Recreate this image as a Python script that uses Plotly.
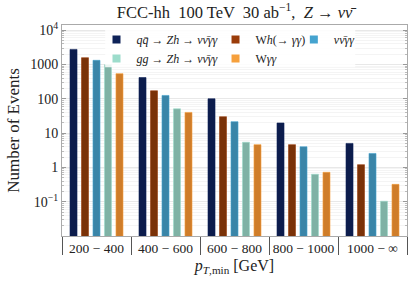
import plotly.graph_objects as go

categories = ["200 − 400", "400 − 600", "600 − 800", "800 − 1000", "1000 − ∞"]
qq_zh = [2750, 415, 100, 19.7, 5.0]
wh = [1575, 171, 30, 4.6, 1.2]
nunu_gg = [1320, 125, 21.5, 4.0, 2.55]
gg_zh = [980, 51, 5.4, 0.63, 0.103]
w_gg = [540, 40, 4.6, 0.72, 0.32]

names = [
    "<i>qq̄</i> → <i>Zh</i> → <i>νν̄γγ</i>",
    "W<i>h</i>(→ <i>γγ</i>)",
    "<i>νν̄γγ</i>",
    "<i>gg</i> → <i>Zh</i> → <i>νν̄γγ</i>",
    "W<i>γγ</i>",
]
series = [qq_zh, wh, nunu_gg, gg_zh, w_gg]
bar_colors = ["#0c1c4c", "#7a3208", "#3a85a8", "#7fb2a5", "#cf7d2a"]
legend_colors = ["#0e2258", "#9a3c0a", "#45a3cf", "#9cdccb", "#f6a03c"]
legend_ids = ["legend", "legend2", "legend3", "legend", "legend2"]

FONT = "Liberation Serif"

fig = go.Figure()
for vals, c, lc in zip(series, bar_colors, legend_colors):
    fig.add_trace(go.Bar(x=categories, y=vals, marker=dict(color=c, line=dict(color=lc, width=0.6)),
                         showlegend=False))
for i, (nm, lc, lg) in enumerate(zip(names, legend_colors, legend_ids)):
    fig.add_trace(go.Scatter(x=[None], y=[None], mode="markers", name=nm, legend=lg,
                             legendgroup=f"g{i}",
                             marker=dict(symbol="square", size=8, color=lc)))

leg_common = dict(font=dict(family=FONT, size=12, color="#222"), bgcolor="rgba(0,0,0,0)",
                  yanchor="top", y=1.0, xanchor="left", tracegroupgap=0, itemwidth=30)

fig.update_layout(
    width=411, height=282,
    margin=dict(l=62, r=4, t=25, b=46),
    plot_bgcolor="white", paper_bgcolor="white",
    barmode="group", bargap=0.167, bargroupgap=0.39,
    font=dict(family=FONT, color="#222"),
    title=dict(text="FCC-hh  100 TeV  30 ab<sup>−1</sup>,  <i>Z</i> → <i>νν̄</i>",
               x=0.5, xref="paper", xanchor="center", y=1 - 12 / 282, yref="container", yanchor="middle",
               font=dict(family=FONT, size=16.5, color="#222")),
    legend=dict(x=0.10, **leg_common),
    legend2=dict(x=0.445, **leg_common),
    legend3=dict(x=0.672, **leg_common),
    shapes=[dict(type="rect", xref="paper", yref="paper", x0=0.125, x1=0.85, y0=0.80, y1=0.98,
                 fillcolor="rgba(255,255,255,0.85)", line=dict(width=0), layer="above")],
)

fig.update_xaxes(
    type="category", tickson="boundaries", ticks="outside", ticklen=18, tickcolor="#555",
    tickfont=dict(family=FONT, size=13.5, color="#222"), tickangle=0, automargin=False,
    showline=True, linecolor="#aaaaaa", mirror=True, showgrid=False,
    title=dict(text="<i>p</i><sub><i>T</i>,min</sub> [GeV]", font=dict(family=FONT, size=16), standoff=4),
)
fig.update_yaxes(
    type="log", range=[-2, 4.15], automargin=False,
    tickmode="array", tickvals=[0.1, 1, 10, 100, 1000, 10000],
    ticktext=["10<sup>−1</sup>", "1", "10", "100", "1000", "10<sup>4</sup>"],
    tickfont=dict(family=FONT, size=14, color="#222"),
    ticks="inside", ticklen=4, tickcolor="#999",
    showline=True, linecolor="#aaaaaa", mirror="ticks",
    showgrid=True, gridcolor="#e8e8e8", gridwidth=1,
    minor=dict(dtick="D1", ticks="inside", ticklen=2, tickcolor="#bbb", showgrid=True, gridcolor="#f4f4f4"),
    title=dict(text="Number of Events", font=dict(family=FONT, size=17), standoff=6),
    zeroline=False,
)

fig.write_html("out.html", config={"displayModeBar": False},
               post_script="document.body.style.margin='0px';")
